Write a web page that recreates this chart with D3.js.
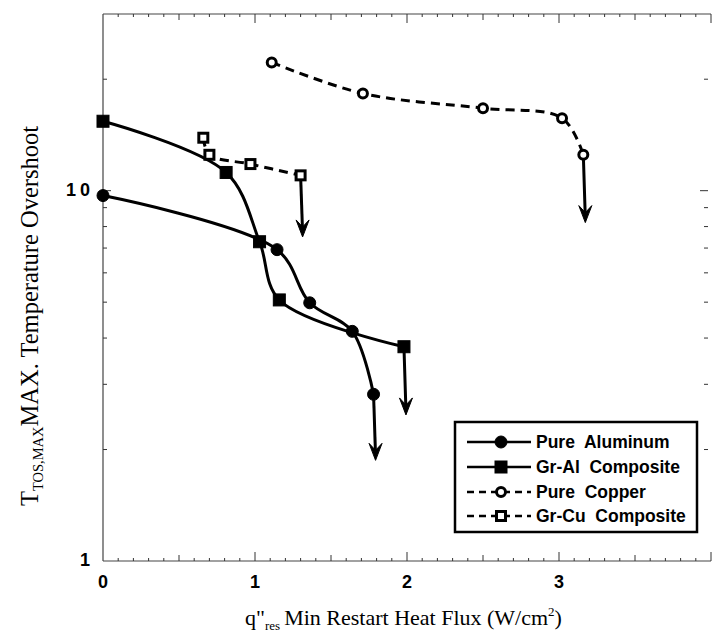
<!DOCTYPE html>
<html>
<head>
<meta charset="utf-8">
<script src="https://cdn.jsdelivr.net/npm/d3@7"></script>
<style>
  html, body { margin: 0; padding: 0; background: #fff; }
  svg { display: block; }
</style>
</head>
<body>
<script>
// ---- data ----
const xTicks = [0, 1, 2, 3];
const yTicks = [1, 10];

const pureAlX = [0, 1.145, 1.36, 1.64, 1.78];
const pureAlY = [9.7, 6.93, 4.98, 4.17, 2.82];
const pureAlArrowTo = 1.87;

const grAlX = [0, 0.81, 1.03, 1.16, 1.98];
const grAlY = [15.4, 11.2, 7.28, 5.07, 3.79];
const grAlArrowTo = 2.48;

const pureCuX = [1.11, 1.71, 2.50, 3.02, 3.16];
const pureCuY = [22.2, 18.3, 16.7, 15.7, 12.5];
const pureCuArrowTo = 8.2;

const grCuX = [0.66, 0.70, 0.97, 1.30];
const grCuY = [13.9, 12.5, 11.8, 11.0];
const grCuArrowTo = 7.5;

const legendLabels = ["Pure  Aluminum", "Gr-Al  Composite", "Pure  Copper", "Gr-Cu  Composite"];

// ---- layout ----
const W = 712, H = 636;
const svg = d3.select("body").append("svg").attr("width", W).attr("height", H);

const x = d3.scaleLinear().domain([0, 4]).range([103, 711]);
const y = d3.scaleLog().domain([1, 30]).range([561, 14]);

const sans = "'Liberation Sans', Arial, sans-serif";
const serif = "'Liberation Serif', 'Times New Roman', serif";

// frame
const frame = svg.append("g").attr("stroke", "#444").attr("stroke-width", 1.2).attr("fill", "none");
frame.append("line").attr("x1", x(0)).attr("x2", x(4)).attr("y1", y(1)).attr("y2", y(1));
frame.append("line").attr("x1", x(0)).attr("x2", x(4)).attr("y1", y(30)).attr("y2", y(30));
frame.append("line").attr("x1", x(0)).attr("x2", x(0)).attr("y1", y(1)).attr("y2", y(30));

// x minor ticks (bottom inward up, top inward down)
const xMinor = d3.range(0, 41).map(i => i / 10);
function tickLen(v) {
  const r = Math.round(v * 10);
  if (r % 10 === 0) return 9;
  if (r % 5 === 0) return 6;
  return 3;
}
const tg = svg.append("g").attr("stroke", "#333").attr("stroke-width", 1);
xMinor.forEach(v => {
  if (v === 0) return;
  tg.append("line").attr("x1", x(v)).attr("x2", x(v)).attr("y1", y(1)).attr("y2", y(1) - tickLen(v));
  tg.append("line").attr("x1", x(v)).attr("x2", x(v)).attr("y1", y(30)).attr("y2", y(30) + tickLen(v));
});
// y ticks (log minor)
const yMinor = [2, 3, 4, 5, 6, 7, 8, 9, 10, 20];
yMinor.forEach(v => {
  const L = v === 10 ? 8 : 4;
  tg.append("line").attr("x1", x(0)).attr("x2", x(0) + L).attr("y1", y(v)).attr("y2", y(v));
  tg.append("line").attr("x1", x(4) - 3).attr("x2", x(4) - 3 - L).attr("y1", y(v)).attr("y2", y(v));
});

// x tick labels
svg.append("g").selectAll("text").data(xTicks).join("text")
  .attr("x", d => x(d)).attr("y", 582)
  .attr("text-anchor", "middle").attr("dominant-baseline", "central")
  .attr("font-family", sans).attr("font-weight", "bold").attr("font-size", 18)
  .text(d => d);

// y tick labels
const yl = svg.append("g").attr("font-family", sans).attr("font-weight", "bold").attr("font-size", 18);
yTicks.forEach(v => {
  const t = yl.append("text").attr("x", 90).attr("y", y(v) - 1)
    .attr("text-anchor", "end").attr("dominant-baseline", "central");
  const s = String(v);
  if (s.length === 1) t.text(s);
  else {
    t.append("tspan").text(s[0]);
    t.append("tspan").attr("dx", 4).text(s.slice(1));
  }
});

// axis titles
const xt = svg.append("text").attr("x", 245).attr("y", 625)
  .attr("font-family", serif).attr("font-size", 22).attr("fill", "#000");
xt.append("tspan").text("q\"");
xt.append("tspan").attr("font-size", 13).attr("dy", 5).text("res");
xt.append("tspan").attr("dy", -5).attr("dx", 4).text("Min Restart Heat Flux (W/cm");
xt.append("tspan").attr("font-size", 13).attr("dy", -9).text("2");
xt.append("tspan").attr("dy", 9).text(")");

const ytitle = svg.append("text").attr("transform", "translate(38,316) rotate(-90)")
  .attr("text-anchor", "middle").attr("font-family", serif).attr("font-size", 24.5).attr("fill", "#000");
ytitle.append("tspan").text("T");
ytitle.append("tspan").attr("font-size", 14.5).attr("dy", 5).text("TOS,MAX");
ytitle.append("tspan").attr("dy", -5).text("MAX. Temperature Overshoot");

// ---- series ----
const series = [
  { xs: pureAlX, ys: pureAlY, arrow: pureAlArrowTo, dash: null, marker: "circle", filled: true },
  { xs: grAlX, ys: grAlY, arrow: grAlArrowTo, dash: null, marker: "square", filled: true },
  { xs: pureCuX, ys: pureCuY, arrow: pureCuArrowTo, dash: "9,6", marker: "circle", filled: false },
  { xs: grCuX, ys: grCuY, arrow: grCuArrowTo, dash: "9,6", marker: "square", filled: false }
];

const line = d3.line().x(d => x(d[0])).y(d => y(d[1])).curve(d3.curveCatmullRom.alpha(0.5));

function drawMarker(g, type, filled, cx, cy) {
  if (type === "circle") {
    g.append("circle").attr("cx", cx).attr("cy", cy).attr("r", filled ? 6 : 4.5)
      .attr("fill", filled ? "#000" : "#fff").attr("stroke", "#000").attr("stroke-width", filled ? 1 : 3);
  } else {
    const s = filled ? 12 : 9;
    g.append("rect").attr("x", cx - s / 2).attr("y", cy - s / 2).attr("width", s).attr("height", s)
      .attr("fill", filled ? "#000" : "#fff").attr("stroke", "#000").attr("stroke-width", filled ? 1 : 3);
  }
}

function drawArrow(g, x0, y0, y1) {
  g.append("line").attr("x1", x0).attr("x2", x0 + 2).attr("y1", y0).attr("y2", y1 - 4)
    .attr("stroke", "#000").attr("stroke-width", 3);
  const tx = x0 + 2, ty = y1;
  g.append("path")
    .attr("d", `M${tx},${ty} L${tx - 6.5},${ty - 17} L${tx},${ty - 10} L${tx + 6.5},${ty - 17} Z`)
    .attr("fill", "#000").attr("stroke", "#000").attr("stroke-width", 1);
}

const plot = svg.append("g");
series.forEach(s => {
  const pts = s.xs.map((v, i) => [v, s.ys[i]]);
  const last = pts[pts.length - 1];
  drawArrow(plot, x(last[0]), y(last[1]), y(s.arrow));
  plot.append("path").attr("d", line(pts)).attr("fill", "none").attr("stroke", "#000")
    .attr("stroke-width", 3).attr("stroke-dasharray", s.dash);
  pts.forEach(p => drawMarker(plot, s.marker, s.filled, x(p[0]), y(p[1])));
});

// ---- legend ----
const lg = svg.append("g");
lg.append("rect").attr("x", 455).attr("y", 422).attr("width", 242).attr("height", 110)
  .attr("fill", "#fff").attr("stroke", "#000").attr("stroke-width", 2.5);
const rowY = [442, 467, 492, 516];
series.forEach((s, i) => {
  const yy = rowY[i];
  lg.append("line").attr("x1", 467).attr("x2", 531).attr("y1", yy).attr("y2", yy)
    .attr("stroke", "#000").attr("stroke-width", 2.5)
    .attr("stroke-dasharray", s.dash ? "7,5" : null);
  drawMarker(lg, s.marker, s.filled, 501, yy);
  lg.append("text").attr("x", 536).attr("y", yy).attr("dominant-baseline", "central")
    .attr("font-family", sans).attr("font-weight", "bold").attr("font-size", 17.5)
    .style("white-space", "pre").text(legendLabels[i]);
});
</script>
</body>
</html>
